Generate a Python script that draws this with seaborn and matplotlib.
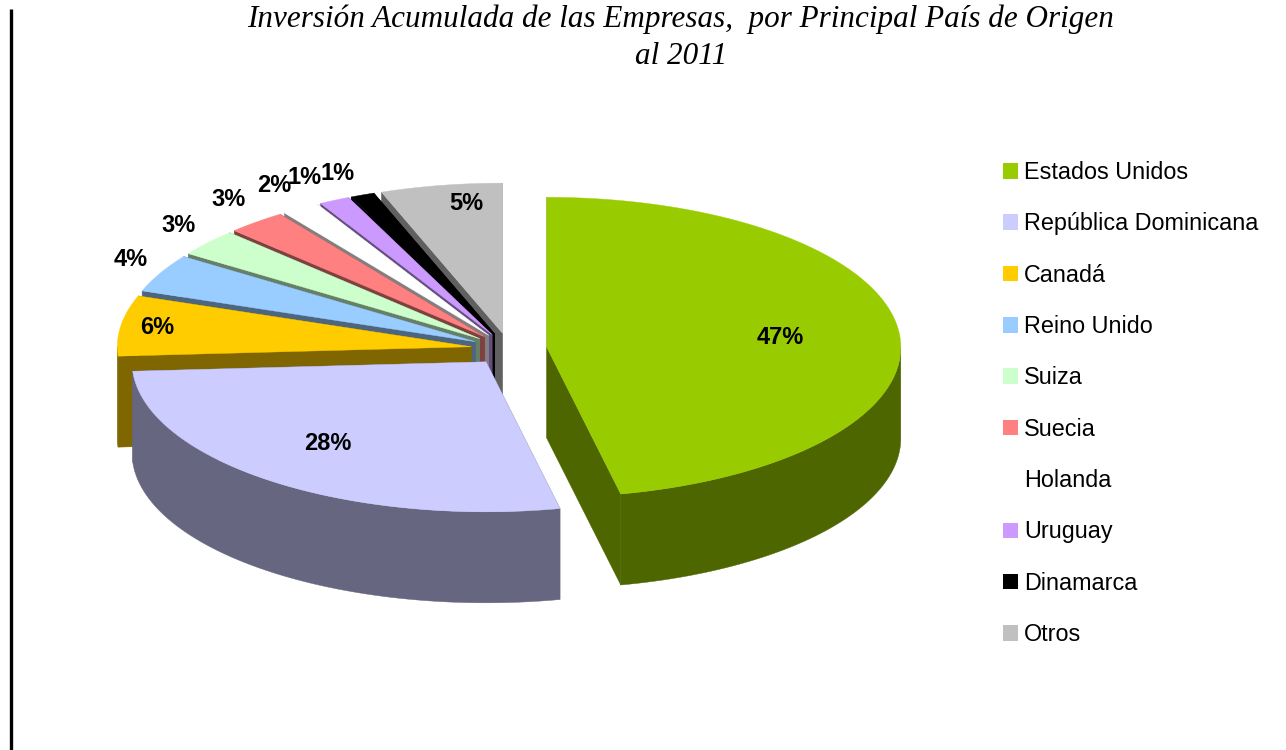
import numpy as np
import matplotlib
matplotlib.use('Agg')
import matplotlib.pyplot as plt
from matplotlib.patches import Patch
import seaborn as sns

paises = ['Estados Unidos', 'República Dominicana', 'Canadá', 'Reino Unido', 'Suiza',
          'Suecia', 'Holanda', 'Uruguay', 'Dinamarca', 'Otros']
valores = [46.65, 27.35, 6.5, 4.1, 2.9, 2.7, 1.75, 1.4, 1.1, 5.55]
etiquetas = ['47%', '28%', '6%', '4%', '3%', '3%', '2%', '1%', '1%', '5%']
colores = ['#99CC00', '#CCCCFF', '#FFCC00', '#99CCFF', '#CCFFCC',
           '#FF8080', '#FFFFFF', '#CC99FF', '#000000', '#C0C0C0']
titulo = 'Inversión Acumulada de las Empresas,  por Principal País de Origen\nal 2011'

sns.set_theme(style='white')
plt.rcParams['font.family'] = ['Liberation Sans', 'DejaVu Sans']
palette = sns.color_palette(colores)

# pie geometry, in pixels of the figure
cx, cy = 509, 349
a, b = 354, 150
depth = 91
explode = 38

# where the percent labels go
label_pos = [(780, 337), (328, 443), (157, 327), (131, 260), (179, 225),
             (229, 200), (274, 186), (305, 177), (338, 173), (466, 204)]

fig = plt.figure(figsize=(12.86, 7.5), dpi=100)
ax = fig.add_axes([0, 0, 1, 1])
ax.set_xlim(0, 1286)
ax.set_ylim(750, 0)
ax.axis('off')

# black rule down the left side
ax.plot([10.5, 10.5], [9, 750], color='black', lw=2.4, solid_capstyle='butt')

edges = np.radians(np.concatenate([[0], np.cumsum(valores)]) / np.sum(valores) * 360)


def arc(x0, y0, t1, t2):
    t = np.linspace(t1, t2, max(int(np.degrees(t2 - t1)) * 2, 2))
    return x0 + a * np.sin(t), y0 - b * np.cos(t)


def draw_wall(xs, ys, color, z):
    xs = np.asarray(xs)
    ys = np.asarray(ys)
    ax.fill(np.r_[xs, xs[::-1]], np.r_[ys, ys[::-1] + depth],
            color=color, lw=0.3, zorder=z)


# back slices first, so the front ones cover them
for z, i in enumerate(range(len(valores) - 1, -1, -1)):
    t1, t2 = edges[i], edges[i + 1]
    mid = (t1 + t2) / 2
    x0 = cx + explode * np.sin(mid)
    y0 = cy - explode * (b / a) * np.cos(mid)
    top = palette[i]
    dark = tuple(c * 0.5 for c in top)
    zz = z * 2

    xa, ya = arc(x0, y0, t1, t2)
    # cut faces
    draw_wall([x0, xa[0]], [y0, ya[0]], dark, zz)
    draw_wall([x0, xa[-1]], [y0, ya[-1]], dark, zz)
    # curved outside, only the part that faces the viewer
    lo, hi = max(t1, np.pi / 2), min(t2, 3 * np.pi / 2)
    if hi > lo:
        xw, yw = arc(x0, y0, lo, hi)
        draw_wall(xw, yw, dark, zz)
    ax.fill(np.r_[x0, xa], np.r_[y0, ya], color=top, lw=0.3, zorder=zz + 1)

for txt, (lx, ly) in zip(etiquetas, label_pos):
    ax.text(lx, ly, txt, ha='center', va='center', fontsize=17,
            fontweight='bold', color='black', zorder=50)

ax.text(681, 5, titulo, ha='center', va='top', fontsize=22.4, style='italic',
        family='Liberation Serif', linespacing=1.35, color='black')

handles = [Patch(facecolor=c, edgecolor='none') for c in palette]
ax.legend(handles, paises, loc='upper left', bbox_to_anchor=(1003, 161),
          bbox_transform=ax.transData, frameon=False, fontsize=16.8, borderpad=0,
          borderaxespad=0, handlelength=0.64, handleheight=0.64, handletextpad=0.27,
          labelspacing=1.215, labelcolor='black')

fig.savefig('out.png', dpi=100)
